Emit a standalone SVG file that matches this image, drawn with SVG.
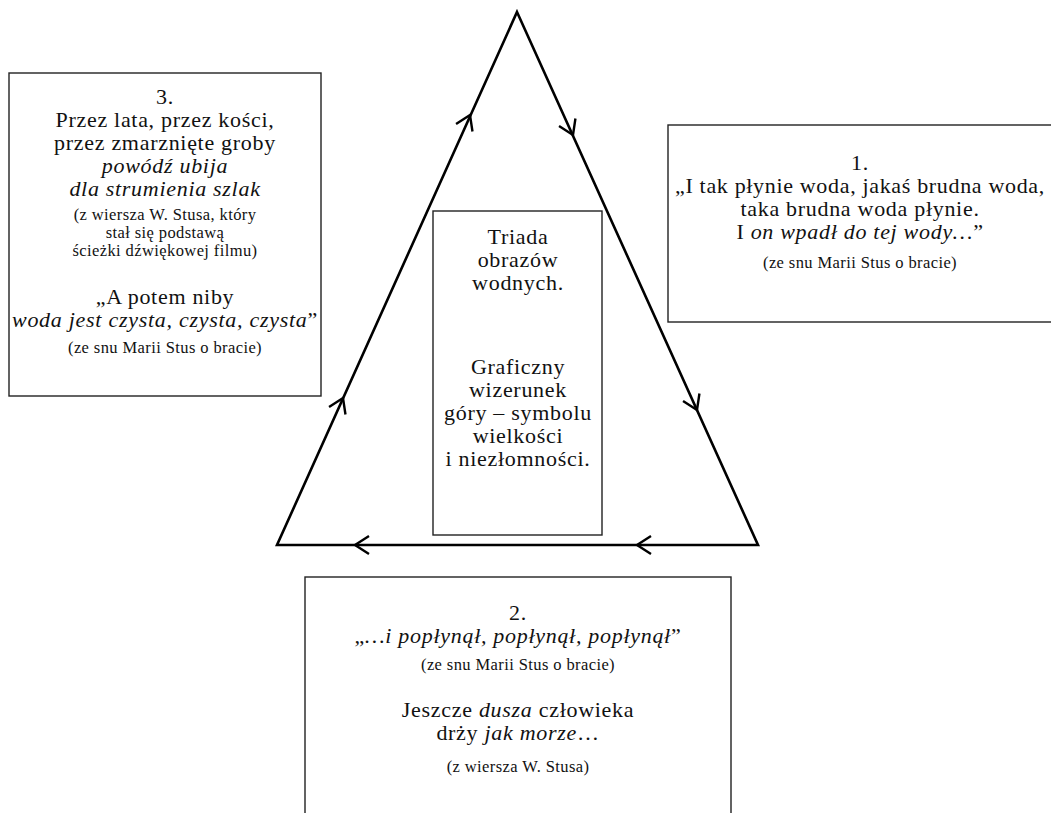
<svg xmlns="http://www.w3.org/2000/svg" width="1051" height="813" viewBox="0 0 1051 813">
<style>
.box{fill:#fff;stroke:#222;stroke-width:1.4}
.tri{fill:none;stroke:#000;stroke-width:2.6;stroke-linejoin:miter}
.chev{fill:none;stroke:#000;stroke-width:2.4}
text{font-family:"Liberation Serif","Times New Roman","DejaVu Serif",serif;fill:#111;text-anchor:middle}
.b{font-size:22px;letter-spacing:0.7px}
.s{font-size:16.5px;letter-spacing:0.4px}
.i{font-style:italic}
</style>
<defs>
<path id="chev" class="chev" d="M-14,-9 L0,0 L-14,9"/>
</defs>
<rect width="1051" height="813" fill="#fff"/>
<g id="connectors">
<polygon class="tri" points="517,12 758,545 277,545"/>
<use href="#chev" transform="translate(343,398) rotate(-65.8)"/>
<use href="#chev" transform="translate(470,115) rotate(-65.8)"/>
<use href="#chev" transform="translate(573,135) rotate(65.7)"/>
<use href="#chev" transform="translate(697,410) rotate(65.7)"/>
<use href="#chev" transform="translate(637,545) rotate(180)"/>
<use href="#chev" transform="translate(355,545) rotate(180)"/>
</g>
<g id="node-center">
<rect class="box" x="433" y="211" width="169" height="324"/>
<text class="b" x="518" y="244">Triada</text>
<text class="b" x="518" y="267">obrazów</text>
<text class="b" x="518" y="290">wodnych.</text>
<text class="b" x="518" y="374">Graficzny</text>
<text class="b" x="518" y="397">wizerunek</text>
<text class="b" x="518" y="420">góry – symbolu</text>
<text class="b" x="518" y="443">wielkości</text>
<text class="b" x="518" y="466">i niezłomności.</text>
</g>
<g id="node-3">
<rect class="box" x="9" y="73" width="312" height="323"/>
<text class="b" x="165" y="104">3.</text>
<text class="b" x="165" y="127">Przez lata, przez kości,</text>
<text class="b" x="165" y="150">przez zmarznięte groby</text>
<text class="b i" x="165" y="173">powódź ubija</text>
<text class="b i" x="165" y="196">dla strumienia szlak</text>
<text class="s" x="165" y="220">(z wiersza W. Stusa, który</text>
<text class="s" x="165" y="238">stał się podstawą</text>
<text class="s" x="165" y="256">ścieżki dźwiękowej filmu)</text>
<text class="b" x="165" y="304">„A potem niby</text>
<text class="b" x="165" y="327" textLength="306" lengthAdjust="spacing"><tspan class="i">woda jest czysta, czysta, czysta</tspan>”</text>
<text class="s" x="165" y="353">(ze snu Marii Stus o bracie)</text>
</g>
<g id="node-1">
<rect class="box" x="668" y="125" width="390" height="197"/>
<text class="b" x="860" y="170">1.</text>
<text class="b" x="860" y="193" textLength="370" lengthAdjust="spacing">„I tak płynie woda, jakaś brudna woda,</text>
<text class="b" x="860" y="216">taka brudna woda płynie.</text>
<text class="b" x="860" y="239">I <tspan class="i">on wpadł do tej wody…</tspan>”</text>
<text class="s" x="860" y="268">(ze snu Marii Stus o bracie)</text>
</g>
<g id="node-2">
<rect class="box" x="305" y="577" width="426" height="250"/>
<text class="b" x="518" y="620">2.</text>
<text class="b" x="518" y="643">„<tspan class="i">…i popłynął, popłynął, popłynął</tspan>”</text>
<text class="s" x="518" y="670">(ze snu Marii Stus o bracie)</text>
<text class="b" x="518" y="717">Jeszcze <tspan class="i">dusza</tspan> człowieka</text>
<text class="b" x="518" y="740">drży <tspan class="i">jak morze</tspan>…</text>
<text class="s" x="518" y="772">(z wiersza W. Stusa)</text>
</g>
</svg>
